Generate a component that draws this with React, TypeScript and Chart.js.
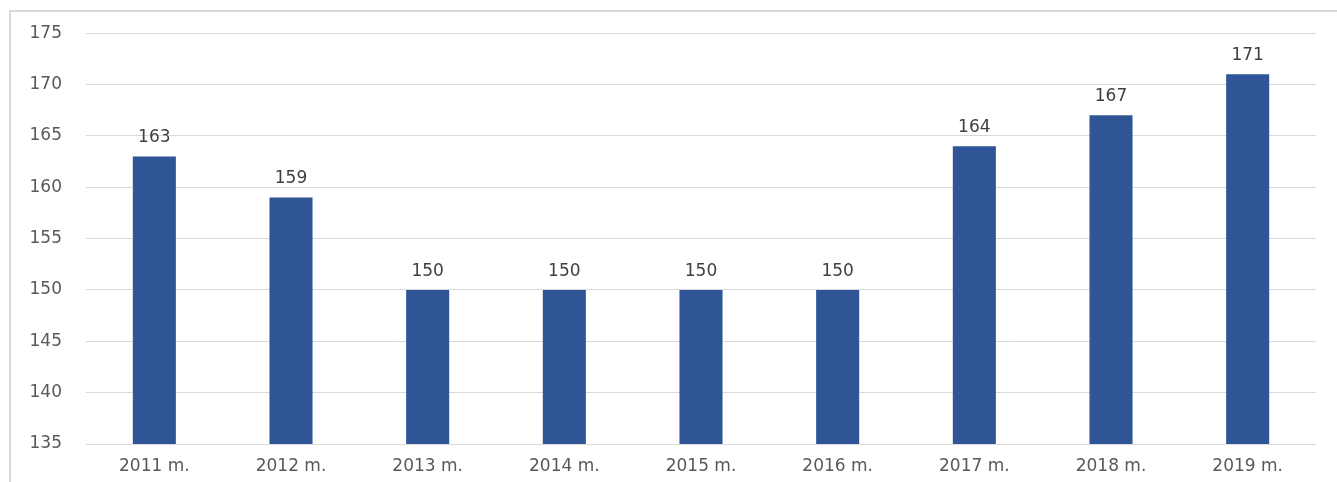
import React, { useEffect, useRef } from "react";
import { Chart, registerables } from "chart.js";

Chart.register(...registerables);

const categories = ["2011 m.", "2012 m.", "2013 m.", "2014 m.", "2015 m.", "2016 m.", "2017 m.", "2018 m.", "2019 m."];
const values = [163, 159, 150, 150, 150, 150, 164, 167, 171];
const yMin = 135;
const yMax = 175;
const yStep = 5;

const FONT = "'DejaVu Sans', 'Noto Sans', sans-serif";

const valueLabels = {
  id: "valueLabels",
  afterDatasetsDraw(chart: any) {
    const ctx = chart.ctx;
    const meta = chart.getDatasetMeta(0);
    ctx.save();
    ctx.font = `17px ${FONT}`;
    ctx.fillStyle = "#404040";
    ctx.textAlign = "center";
    ctx.textBaseline = "bottom";
    meta.data.forEach((el: any, i: number) => {
      ctx.fillText(String(chart.data.datasets[0].data[i]), el.x, el.y - 10);
    });
    ctx.restore();
  },
};

export default function App() {
  const ref = useRef<HTMLCanvasElement>(null);
  useEffect(() => {
    if (!ref.current) return;
    const chart = new Chart(ref.current, {
      type: "bar",
      data: {
        labels: categories,
        datasets: [
          {
            data: values,
            backgroundColor: "#2F5597",
            borderWidth: 0,
            barPercentage: 1,
            categoryPercentage: 0.315,
          },
        ],
      },
      options: {
        animation: false,
        responsive: false,
        maintainAspectRatio: false,
        layout: { padding: { left: 0, right: 21, top: 0, bottom: 0 } },
        plugins: { legend: { display: false }, tooltip: { enabled: false } },
        scales: {
          x: {
            grid: { display: false, drawTicks: false },
            border: { display: false },
            ticks: { color: "#595959", font: { family: FONT, size: 17 }, padding: 12, maxRotation: 0 },
            afterFit: (s: any) => { s.height = 38; },
          },
          y: {
            min: yMin,
            max: yMax,
            grid: { color: "#d9d9d9", drawTicks: false, lineWidth: 1 },
            border: { display: false },
            ticks: { stepSize: yStep, color: "#595959", font: { family: FONT, size: 17 }, padding: 24 },
            afterFit: (s: any) => { s.width = 76; },
          },
        },
      },
      plugins: [valueLabels],
    });
    return () => chart.destroy();
  }, []);
  return (
    <div style={{ position: "absolute", left: 0, top: 0, width: 1337, height: 482, background: "#fff", overflow: "hidden" }}>
      <div style={{ position: "absolute", left: 9, top: 10, width: 1340, height: 480, border: "2px solid #d9d9d9", boxSizing: "border-box" }} />
      <canvas ref={ref} width={1327} height={483} style={{ position: "absolute", left: 10, top: -1, width: 1327, height: 483 }} />
    </div>
  );
}
